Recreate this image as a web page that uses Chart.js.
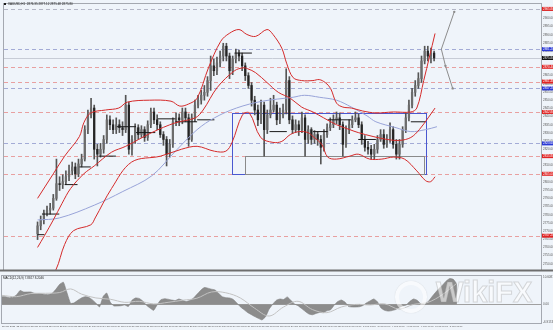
<!DOCTYPE html>
<html><head><meta charset="utf-8">
<script src="https://cdn.jsdelivr.net/npm/chart.js@4.4.1/dist/chart.umd.min.js"></script>
<style>
html,body{margin:0;padding:0;background:#eff4fa;width:553px;height:330px;overflow:hidden;position:relative;font-family:'Liberation Sans',Arial,sans-serif}
#main{position:absolute;left:0;top:0}
#sub{position:absolute;left:0;top:274px}
#wm{position:absolute;left:436px;top:276px;font:bold 29px 'Liberation Sans',Arial,sans-serif;color:rgba(255,255,255,0.55);-webkit-text-stroke:1px rgba(150,150,150,0.35);letter-spacing:0px}
#wmLogo{position:absolute;left:395px;top:281px;width:24px;height:24px;border-radius:50%;border:4px solid rgba(255,255,255,0.55);box-shadow:0 0 1px rgba(140,140,140,0.4)}
</style></head><body>
<canvas id="main" width="553" height="274"></canvas>
<canvas id="sub" width="553" height="56"></canvas>
<div id="wmLogo"></div>
<div id="wm">WikiFX</div>
<script>
// ---------- candles (bar index 0..126) ----------
const open = [2768.4,2773.2,2776.8,2781.0,2782.8,2784.0,2790.0,2799.0,2798.4,2800.2,
2803.2,2806.8,2809.2,2805.0,2811.0,2814.0,2832.0,2841.0,2845.2,2820.0,
2817.0,2820.0,2826.0,2838.0,2835.0,2832.0,2835.0,2833.2,2832.0,2847.0,
2820.0,2826.0,2833.2,2829.0,2832.0,2827.2,2835.0,2842.8,2838.0,2835.0,
2829.0,2826.0,2817.0,2823.0,2836.8,2839.2,2838.0,2842.8,2839.2,2826.0,
2839.2,2847.0,2850.0,2853.0,2854.8,2862.0,2871.0,2868.0,2872.8,2877.0,
2883.0,2877.0,2868.0,2875.2,2878.8,2877.0,2871.0,2865.0,2859.0,2850.0,
2844.0,2838.0,2847.0,2832.0,2841.0,2844.0,2847.0,2838.0,2841.0,2844.0,
2862.0,2838.0,2832.0,2835.0,2832.0,2839.2,2826.0,2832.0,2826.0,2829.0,
2826.0,2821.2,2829.0,2833.2,2835.0,2838.0,2839.2,2835.0,2823.0,2832.0,
2835.0,2838.0,2839.2,2835.0,2826.0,2821.2,2820.0,2817.0,2820.0,2826.0,
2829.0,2823.0,2826.0,2832.0,2823.0,2817.0,2823.0,2832.0,2839.2,2847.0,
2854.8,2859.0,2863.2,2874.0,2880.0,2877.0,2878.8];
const close = [2773.2,2776.8,2781.0,2782.8,2784.0,2790.0,2799.0,2798.4,2800.2,2803.2,
2806.8,2809.2,2805.0,2811.0,2814.0,2832.0,2841.0,2845.2,2820.0,2817.0,
2820.0,2826.0,2838.0,2835.0,2832.0,2835.0,2833.2,2832.0,2847.0,2820.0,
2826.0,2833.2,2829.0,2832.0,2827.2,2835.0,2842.8,2838.0,2835.0,2829.0,
2826.0,2817.0,2823.0,2836.8,2839.2,2838.0,2842.8,2839.2,2826.0,2839.2,
2847.0,2850.0,2853.0,2854.8,2862.0,2871.0,2868.0,2872.8,2877.0,2883.0,
2877.0,2868.0,2875.2,2878.8,2877.0,2871.0,2865.0,2859.0,2850.0,2844.0,
2838.0,2847.0,2832.0,2841.0,2844.0,2847.0,2838.0,2841.0,2844.0,2862.0,
2838.0,2832.0,2835.0,2832.0,2839.2,2826.0,2832.0,2826.0,2829.0,2826.0,
2821.2,2829.0,2833.2,2835.0,2838.0,2839.2,2835.0,2823.0,2832.0,2835.0,
2838.0,2839.2,2835.0,2826.0,2821.2,2820.0,2817.0,2820.0,2826.0,2829.0,
2823.0,2826.0,2832.0,2823.0,2817.0,2823.0,2832.0,2839.2,2847.0,2854.8,
2859.0,2863.2,2874.0,2880.0,2877.0,2878.8,2875.8];
const high = [2775.6,2779.2,2782.8,2785.2,2787.0,2792.4,2814.0,2803.2,2804.4,2806.8,
2810.4,2812.2,2811.6,2814.0,2817.0,2834.4,2844.0,2851.2,2847.0,2823.0,
2823.6,2828.4,2841.0,2840.4,2838.0,2839.2,2838.0,2836.8,2853.0,2848.8,
2828.4,2835.6,2835.0,2834.4,2833.8,2837.4,2845.2,2845.2,2841.0,2836.8,
2830.8,2827.8,2826.0,2839.2,2842.2,2841.6,2845.2,2845.2,2841.6,2841.6,
2850.0,2853.0,2856.0,2859.0,2864.4,2877.0,2875.2,2876.4,2880.0,2884.8,
2884.8,2878.8,2877.0,2881.2,2880.6,2878.8,2872.8,2866.8,2860.8,2852.4,
2847.0,2850.0,2848.8,2844.0,2851.2,2853.0,2848.8,2845.2,2847.6,2869.2,
2864.4,2840.4,2838.0,2837.4,2842.8,2841.0,2834.4,2833.2,2831.4,2830.8,
2828.4,2832.0,2835.6,2839.2,2841.0,2842.8,2842.2,2836.8,2834.4,2838.0,
2840.4,2842.8,2841.6,2836.8,2828.4,2824.8,2822.4,2823.0,2828.4,2832.0,
2832.0,2829.0,2836.2,2833.8,2826.0,2826.0,2833.8,2842.2,2850.0,2857.2,
2862.0,2866.8,2877.0,2883.0,2883.0,2881.8,2880.0];
const low = [2764.8,2770.8,2774.4,2779.2,2780.4,2782.8,2788.8,2794.8,2796.0,2798.4,
2800.8,2804.4,2802.0,2803.2,2809.2,2812.8,2829.6,2839.2,2814.0,2809.8,
2815.2,2817.6,2823.6,2832.0,2829.6,2829.6,2830.2,2828.4,2830.2,2817.0,
2816.4,2823.6,2826.0,2827.2,2824.8,2825.4,2833.2,2835.6,2832.0,2827.2,
2822.4,2809.8,2815.2,2821.2,2834.4,2834.4,2835.6,2836.8,2821.8,2824.8,
2836.8,2845.2,2847.6,2850.0,2852.4,2856.0,2865.0,2865.6,2870.4,2874.0,
2874.0,2863.2,2865.6,2872.8,2874.0,2868.0,2862.0,2857.2,2846.4,2841.0,
2834.4,2835.6,2815.8,2829.6,2839.2,2842.8,2835.0,2835.6,2839.2,2841.6,
2835.6,2829.6,2830.2,2828.4,2830.2,2815.8,2823.6,2823.0,2823.6,2822.4,
2811.0,2818.8,2827.2,2831.4,2833.2,2835.6,2832.0,2815.8,2821.2,2829.6,
2833.2,2836.8,2833.2,2823.0,2818.8,2817.0,2814.0,2814.0,2817.6,2824.8,
2820.6,2821.2,2824.2,2820.6,2814.0,2814.0,2821.2,2830.2,2837.4,2845.2,
2852.4,2857.2,2860.8,2872.2,2874.0,2872.8,2874.0];

// ---------- Bollinger bands & moving average (bar index, price) ----------
const upperX = [0,5.0,8.6,13.3,14.7,16.9,21.6,25.8,28.5,35.5,42.4,45.2,47.9,50.7,54.3,58.2,60.9,64.0,66.5,69.3,72.9,74.8,77.6,79.2,81.2,83.9,87.5,89.5,91.4,93.1,95.0,97.0,99.7,103.3,107.5,113.0,118.6,120.5,122.7,126.3];
const upperY = [2790.0,2805.0,2815.8,2827.8,2836.2,2842.2,2844.0,2845.2,2848.8,2850.0,2849.4,2846.4,2847.6,2851.2,2869.8,2886.0,2890.8,2893.2,2890.2,2889.0,2893.2,2890.2,2881.8,2872.2,2863.8,2862.0,2862.0,2862.6,2860.8,2857.2,2848.2,2845.8,2845.2,2843.4,2842.2,2842.8,2842.8,2845.2,2862.0,2890.8];
const middleX = [0,2.2,5.0,7.8,10.5,14.7,18.0,23.5,28.0,36.3,43.8,50.1,52.6,57.1,62.6,65.4,66.8,69.3,72.9,76.5,80.3,83.9,87.5,90.9,95.0,99.2,101.9,106.6,111.1,115.0,118.6,121.3,124.1,126.3];
const middleY = [2760.0,2767.2,2776.8,2787.0,2796.0,2805.0,2809.8,2818.2,2821.8,2830.2,2836.2,2839.2,2844.0,2857.8,2868.0,2869.8,2869.2,2866.8,2860.8,2854.8,2851.2,2845.8,2842.8,2839.2,2835.0,2832.0,2830.2,2827.8,2826.0,2825.4,2827.2,2832.0,2839.2,2845.2];
const lowerX = [0,2.8,5.8,8.6,11.4,16.9,18.3,23.5,29.9,39.1,45.7,50.7,56.2,59.8,61.8,65.1,67.3,70.9,74.8,77.6,80.3,83.1,85.9,87.5,90.3,92.2,95.0,99.2,101.9,105.5,109.4,113.0,116.6,120.5,123.3,124.9,126.3];
const lowerY = [2730.0,2739.0,2746.2,2761.8,2770.2,2773.8,2778.0,2796.0,2812.2,2815.8,2820.0,2821.8,2818.8,2818.8,2824.2,2841.0,2842.2,2827.2,2824.2,2824.8,2829.0,2830.8,2830.2,2827.8,2823.0,2815.2,2814.0,2815.8,2817.0,2814.0,2814.0,2815.2,2814.0,2806.8,2800.8,2800.2,2803.2];
const maX = [0,6.9,18.0,27.1,36.3,43.8,50.7,56.2,63.2,71.5,81.2,84.8,89.5,95.0,99.7,104.7,107.5,113.9,118.6,123.3,126.9];
const maY = [2776.8,2778.0,2785.8,2794.2,2803.8,2818.8,2832.0,2839.2,2845.2,2849.4,2851.8,2853.0,2851.8,2850.0,2845.8,2840.4,2836.8,2833.2,2830.8,2832.0,2833.8];

// ---------- short horizontal pivot segments ----------
const pivotStart = [0,1.4,8.6,13.3,19.4,25.2,31.3,38.2,43.8,50.7,62.6,73.7,87.5,92.2,101.9,118.6];
const pivotEnd   = [2.2,6.9,12.7,16.9,24.9,31.3,37.4,43.8,50.7,56.2,68.1,79.2,92.2,99.7,107.5,123.3];
const pivotPrice = [2767.8,2780.4,2798.4,2809.2,2815.8,2833.8,2830.2,2838.6,2836.8,2838.0,2878.8,2830.8,2830.8,2838.0,2826.0,2836.8];

// ---------- range boxes & projection ----------
const rangeBoxX = [61.8,123.3];  const rangeBoxY = [2842.2,2805.0];
const innerBoxX = [65.9,122.7];  const innerBoxY = [2815.8,2805.0];
const projUpX = [128.3,132.4];   const projUpY = [2881.2,2904.0];
const projDownX = [128.3,129.6,131.9]; const projDownY = [2881.2,2871.0,2857.2];

// ---------- horizontal levels ----------
const levelPrices = [2905.8,2881.2,2875.8,2870.4,2861.4,2857.2,2842.8,2823.6,2815.8,2805.0,2767.2];
const levelKinds  = ['top','support','bid','resistance','resistance','support','resistance','support','resistance','resistance','resistance'];

// ---------- axes ----------
const priceTicks = [2750,2755,2760,2765,2770,2775,2780,2785,2790,2795,2800,2805,2810,2815,2820,2825,2830,2835,2840,2845,2850,2855,2860,2865,2870,2875,2880,2885,2890,2895,2900,2905];
const xTickIdx = [0,4,8,12,16,20,24,28,32,36,40,44,48,52,56,60,64,68,72,76,80,84,88,92,96,100,104,108,112,116,120,124];
const xTickLabels = ['22 Jan 2025','22 Jan 08:00','22 Jan 16:00','23 Jan 00:00','23 Jan 08:00','23 Jan 16:00','24 Jan 00:00','24 Jan 08:00','24 Jan 16:00','27 Jan 00:00','27 Jan 08:00','27 Jan 16:00','28 Jan 00:00','28 Jan 08:00','28 Jan 16:00','29 Jan 00:00','29 Jan 08:00','29 Jan 16:00','30 Jan 00:00','30 Jan 08:00','30 Jan 16:00','31 Jan 00:00','31 Jan 08:00','31 Jan 16:00','3 Feb 00:00','3 Feb 08:00','3 Feb 16:00','4 Feb 00:00','4 Feb 08:00','4 Feb 16:00','5 Feb 00:00','5 Feb 08:00'];
const titleText = 'XAUUSD,H1  2876.35 2877.12 2875.48 2875.80';

// ---------- lower pane (MACD) ----------
const macd = [3.0,3.0,2.6,2.8,3.6,5.4,4.8,4.8,4.8,4.3,
4.2,4.1,3.8,3.8,4.4,6.0,7.8,8.6,4.5,0.4,
0.6,1.6,2.5,3.0,2.8,1.8,0.5,-1.0,3.0,4.4,
0.8,-0.6,-0.6,-0.5,-0.2,-0.8,1.6,2.5,2.3,1.3,
-0.3,-1.4,-2.3,-0.1,1.8,2.2,2.0,1.7,1.5,2.1,
1.6,1.1,1.5,2.4,3.9,5.4,6.5,6.3,5.9,5.6,
4.3,3.0,2.6,2.5,2.0,0.6,-0.9,-2.0,-3.1,-3.9,
-4.7,-5.4,-6.0,-4.8,-1.8,0.1,1.6,2.1,1.9,2.9,
1.6,0.2,-0.5,-1.6,-2.7,-3.7,-4.0,-3.5,-3.1,-3.2,
-2.5,-2.1,-0.3,1.1,1.7,0.9,-0.8,-1.0,-1.0,-0.9,
-0.4,0.6,1.4,2.1,1.0,-1.4,-2.3,-2.6,-2.4,-2.0,
-1.2,-0.6,-0.2,1.2,2.1,1.6,0.2,0.0,1.0,2.8,
4.5,6.1,7.4,9.0,10.0,9.7,7.9];
const signalX = [0,4,8,12,16,19,22,26,30,34,38,42,46,50,54,58,62,66,70,74,78,82,86,90,94,98,102,106,110,114,118,122,126];
const signalY = [3.5,3.0,4.2,4.3,4.6,6.0,4.0,2.5,2.0,0.8,1.2,0.2,0.8,1.6,2.4,4.8,4.5,2.5,-1.5,-4.5,-1.0,1.2,-2.0,-3.2,-1.0,0.0,-0.2,0.2,-1.8,0.0,0.8,3.8,8.2];
const macdTickVals = [10.6,0,-6.9];
const macdTickLabels = ['10.6081','0.00','-6.9174'];
const macdTitle = 'MACD(12,26,9) 7.8927 8.2046';

// ================= rendering =================
const RED = '#d42a2a';
const pts = (xs, ys) => xs.map((x, i) => ({x, y: ys[i]}));
const idx = open.map((_, i) => i);
const pivotPts = [];
pivotStart.forEach((s, i) => { pivotPts.push({x: s, y: pivotPrice[i]}, {x: pivotEnd[i], y: pivotPrice[i]}, {x: pivotEnd[i], y: null}); });

const lineColor = {top:'#b3b6c6', support:'#a3abd6', bid:'#c7ccd6', resistance:'#e8a0a0'};
const labelColor = {top:'#e02424', support:'#2b39d6', bid:'#111111', resistance:'#e02424'};
const X_MIN = 0, X_MAX = 149.3;

const levelPlugin = {
  id: 'levels',
  beforeDatasetsDraw(chart) {
    const {ctx, chartArea: a, scales: {x, y}} = chart;
    ctx.save();
    ctx.lineWidth = 1;
    levelPrices.forEach((p, i) => {
      const py = Math.round(y.getPixelForValue(p)) + 0.5;
      ctx.strokeStyle = lineColor[levelKinds[i]];
      ctx.setLineDash(levelKinds[i] === 'bid' ? [] : [4, 3]);
      ctx.beginPath(); ctx.moveTo(a.left, py); ctx.lineTo(a.right, py); ctx.stroke();
    });
    ctx.setLineDash([]);
    const rx0 = x.getPixelForValue(rangeBoxX[0]), rx1 = x.getPixelForValue(rangeBoxX[1]);
    const ry0 = y.getPixelForValue(rangeBoxY[0]), ry1 = y.getPixelForValue(rangeBoxY[1]);
    ctx.strokeStyle = '#4a58d0';
    ctx.strokeRect(Math.round(rx0) + 0.5, Math.round(ry0) + 0.5, Math.round(rx1 - rx0), Math.round(ry1 - ry0));
    const ix0 = x.getPixelForValue(innerBoxX[0]), ix1 = x.getPixelForValue(innerBoxX[1]);
    const iy0 = y.getPixelForValue(innerBoxY[0]), iy1 = y.getPixelForValue(innerBoxY[1]);
    ctx.strokeStyle = '#8a8a8a';
    ctx.strokeRect(Math.round(ix0) + 0.5, Math.round(iy0) + 0.5, Math.round(ix1 - ix0), Math.round(iy1 - iy0));
    ctx.restore();
  },
  afterDraw(chart) {
    const {ctx, chartArea: a, scales: {y}} = chart;
    ctx.save();
    ctx.strokeStyle = '#a4a8b0'; ctx.lineWidth = 1;
    ctx.strokeRect(a.left - 0.5, a.top - 0.5, a.right - a.left + 1, a.bottom - a.top + 1);
    ctx.strokeStyle = '#6e6e6e'; ctx.lineWidth = 2;
    ctx.beginPath(); ctx.moveTo(0, a.bottom + 0.5); ctx.lineTo(553, a.bottom + 0.5); ctx.stroke();
    ctx.font = '3px "Liberation Sans", Arial';
    ctx.textBaseline = 'middle';
    levelPrices.forEach((p, i) => {
      const py = y.getPixelForValue(p);
      ctx.fillStyle = labelColor[levelKinds[i]];
      ctx.fillRect(a.right + 1, py - 2, 12, 4);
      ctx.fillStyle = '#ffffff';
      ctx.fillText(p.toFixed(2), a.right + 2, py);
    });
    ctx.fillStyle = '#1a1a1a';
    ctx.fillRect(4, 3, 2, 2);
    ctx.font = '3px "Liberation Sans", Arial';
    ctx.fillText(titleText, 8, 4.5);
    ctx.restore();
  }
};

new Chart(document.getElementById('main'), {
  type: 'bar',
  data: {datasets: [
    {type:'line', data: pts(upperX, upperY), borderColor: RED, borderWidth: 1, pointRadius: 0, tension: 0.35, order: 1},
    {type:'line', data: pts(middleX, middleY), borderColor: RED, borderWidth: 1, pointRadius: 0, tension: 0.35, order: 1},
    {type:'line', data: pts(lowerX, lowerY), borderColor: RED, borderWidth: 1, pointRadius: 0, tension: 0.35, order: 1},
    {type:'line', data: pts(maX, maY), borderColor: '#98a3d8', borderWidth: 1, pointRadius: 0, tension: 0.35, order: 1},
    {type:'line', data: pivotPts, borderColor: '#1a1a1a', borderWidth: 1, pointRadius: 0, spanGaps: false, order: 1},
    {type:'line', data: pts(projUpX, projUpY), borderColor: '#8c8c8c', borderWidth: 1, pointRadius: [0, 1.2], pointBackgroundColor: '#8c8c8c', pointBorderWidth: 0, order: 1},
    {type:'line', data: pts(projDownX, projDownY), borderColor: '#8c8c8c', borderWidth: 1, pointRadius: [0, 1.2, 1.2], pointBackgroundColor: '#8c8c8c', pointBorderWidth: 0, order: 1},
    {type:'bar', data: idx.map(i => ({x: i, y: [low[i], high[i]]})), backgroundColor: '#555555', barThickness: 1, grouped: false, order: 6},
    {type:'bar', data: idx.map(i => ({x: i, y: [open[i], close[i]]})), backgroundColor: idx.map(i => close[i] >= open[i] ? '#6c6c6c' : '#242424'), barThickness: 1.6, minBarLength: 1, grouped: false, order: 5}
  ]},
  options: {
    responsive: false, animation: false, devicePixelRatio: 1,
    layout: {padding: {left: 2, top: 2, right: 0, bottom: 1}},
    plugins: {legend: {display: false}, tooltip: {enabled: false}},
    scales: {
      x: {type: 'linear', min: X_MIN, max: X_MAX, display: false},
      y: {type: 'linear', position: 'right', min: 2746.2, max: 2908.8,
        afterBuildTicks: s => { s.ticks = priceTicks.map(v => ({value: v})); },
        afterFit: s => { s.width = 12; s.paddingTop = 0; s.paddingBottom = 0; },
        ticks: {autoSkip: false, padding: 1, color: '#555', font: {size: 3, family: 'Liberation Sans'}, callback: v => v.toFixed(2)},
        grid: {drawOnChartArea: false, tickLength: 1, color: '#999'},
        border: {color: '#999'}}
    }
  },
  plugins: [levelPlugin]
});

const subPlugin = {
  id: 'subdeco',
  beforeDatasetsDraw(chart) {
    const {ctx, chartArea: a, scales: {y}} = chart;
    const py = Math.round(y.getPixelForValue(0)) + 0.5;
    ctx.save(); ctx.strokeStyle = '#a0a0a0'; ctx.lineWidth = 1;
    ctx.beginPath(); ctx.moveTo(a.left, py); ctx.lineTo(a.right, py); ctx.stroke(); ctx.restore();
  },
  afterDraw(chart) {
    const {ctx, chartArea: a} = chart;
    ctx.save();
    ctx.strokeStyle = '#a4a8b0'; ctx.lineWidth = 1;
    ctx.strokeRect(a.left - 0.5, a.top - 0.5, a.right - a.left + 1, a.bottom - a.top + 1);
    ctx.fillStyle = '#1a1a1a'; ctx.font = '3px "Liberation Sans", Arial'; ctx.textBaseline = 'middle';
    ctx.fillText(macdTitle, 3, a.top + 2.5);
    ctx.restore();
  }
};

new Chart(document.getElementById('sub'), {
  type: 'line',
  data: {datasets: [
    {data: pts(signalX, signalY), borderColor: '#c2c2c2', borderWidth: 1, pointRadius: 0, tension: 0.35, order: 0},
    {data: macd.map((v, i) => ({x: i, y: v})), borderColor: '#7e7e7e', borderWidth: 0.6, backgroundColor: '#8c8c8c', fill: 'origin', pointRadius: 0, tension: 0.15, order: 1}
  ]},
  options: {
    responsive: false, animation: false, devicePixelRatio: 1,
    layout: {padding: {left: 2, top: 2, right: 0, bottom: 0}},
    plugins: {legend: {display: false}, tooltip: {enabled: false}},
    scales: {
      x: {type: 'linear', min: X_MIN, max: X_MAX, position: 'bottom',
        afterBuildTicks: s => { s.ticks = xTickIdx.map(v => ({value: v})); },
        afterFit: s => { s.height = 7; s.paddingLeft = 0; s.paddingRight = 0; },
        ticks: {autoSkip: false, maxRotation: 0, minRotation: 0, align: 'start', padding: 1, color: '#555', font: {size: 2.4, family: 'Liberation Sans'}, callback: (v, i) => xTickLabels[i]},
        grid: {drawOnChartArea: false, tickLength: 1, color: '#999'},
        border: {color: '#999'}},
      y: {type: 'linear', position: 'right', min: -7.2, max: 11,
        afterBuildTicks: s => { s.ticks = macdTickVals.map(v => ({value: v})); },
        afterFit: s => { s.width = 12; s.paddingTop = 0; s.paddingBottom = 0; },
        ticks: {autoSkip: false, padding: 1, color: '#555', font: {size: 3, family: 'Liberation Sans'}, callback: (v, i) => macdTickLabels[i]},
        grid: {drawOnChartArea: false, tickLength: 1, color: '#999'},
        border: {color: '#999'}}
    }
  },
  plugins: [subPlugin]
});
</script>
</body></html>
